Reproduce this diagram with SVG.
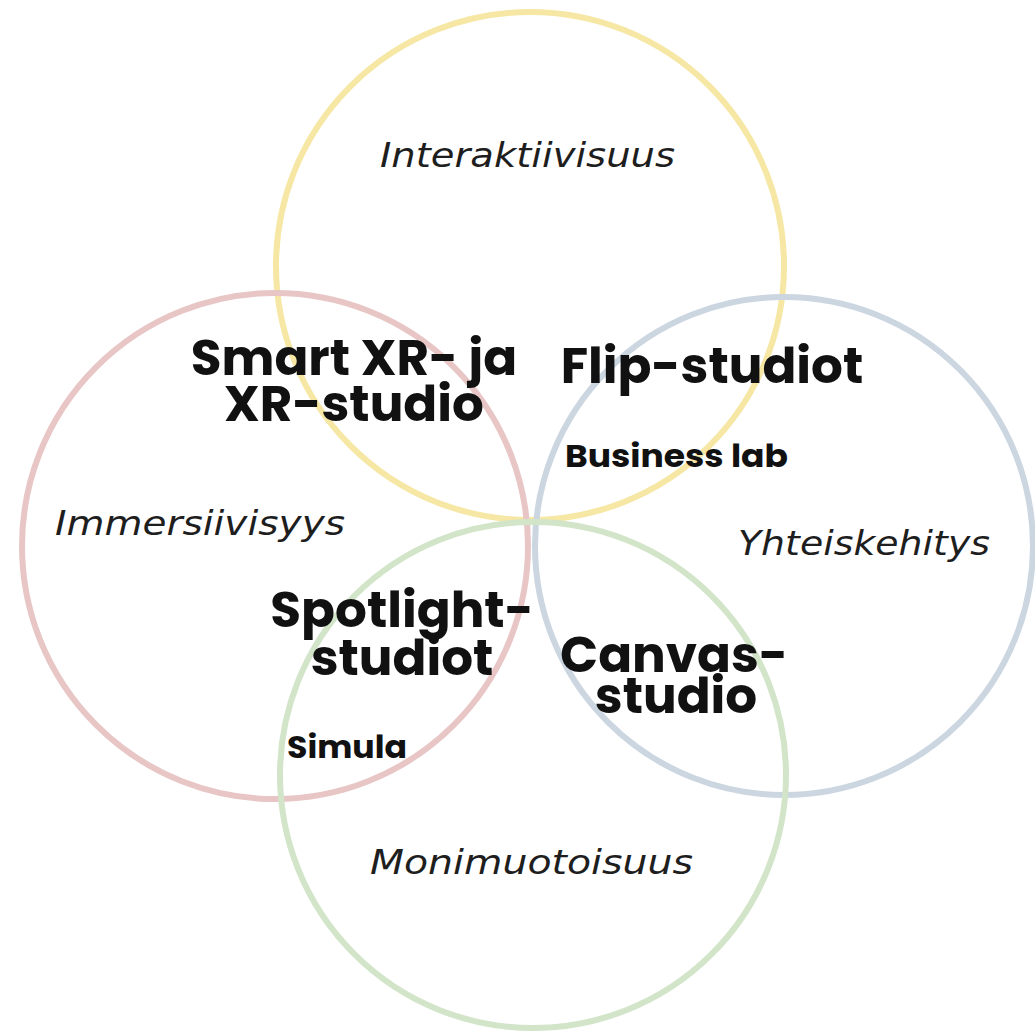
<svg xmlns="http://www.w3.org/2000/svg" width="1035" height="1033" viewBox="0 0 1035 1033">
<style>
.c{fill:none;stroke-width:6}
.h{font-family:Poppins,"Noto Sans","Liberation Sans",sans-serif;font-weight:700;fill:#111;text-anchor:middle;font-size:50px}
.s{font-family:Poppins,"Noto Sans","Liberation Sans",sans-serif;font-weight:700;fill:#111;font-size:31px}
.i{font-family:"DejaVu Sans","Noto Sans",sans-serif;font-style:italic;fill:#1e1e1e;font-size:34px}
</style>
<rect width="1035" height="1033" fill="#fff"/>
<g id="circles">
<circle id="yellow" class="c" cx="530" cy="266" r="254" stroke="#F6E7A4"/>
<circle id="red" class="c" cx="275" cy="546" r="253" stroke="#E8C6C6"/>
<circle id="blue" class="c" cx="784" cy="546" r="249" stroke="#CBD6E1"/>
<circle id="green" class="c" cx="533" cy="775" r="253" stroke="#D2E5C9"/>
</g>
<g id="labels">
<text class="i" x="380" y="167" textLength="295" lengthAdjust="spacingAndGlyphs">Interaktiivisuus</text>
<text class="i" x="55" y="535" textLength="290" lengthAdjust="spacingAndGlyphs">Immersiivisyys</text>
<text class="i" x="738" y="555" textLength="252" lengthAdjust="spacingAndGlyphs">Yhteiskehitys</text>
<text class="i" x="370" y="874" textLength="323" lengthAdjust="spacingAndGlyphs">Monimuotoisuus</text>
</g>
<g id="n-smart"><text class="h" x="354" y="375">Smart XR- ja</text><text class="h" x="354" y="421">XR-studio</text></g>
<g id="n-flip"><text class="h" x="712" y="383">Flip-studiot</text></g>
<g id="n-business"><text class="s" x="565" y="467" textLength="223" lengthAdjust="spacingAndGlyphs">Business lab</text></g>
<g id="n-spotlight"><text class="h" x="402" y="627">Spotlight-</text><text class="h" x="402" y="675">studiot</text></g>
<g id="n-canvas"><text class="h" x="674" y="672">Canvas-</text><text class="h" x="676" y="713">studio</text></g>
<g id="n-simula"><text class="s" x="287" y="758" textLength="120" lengthAdjust="spacingAndGlyphs">Simula</text></g>
</svg>
